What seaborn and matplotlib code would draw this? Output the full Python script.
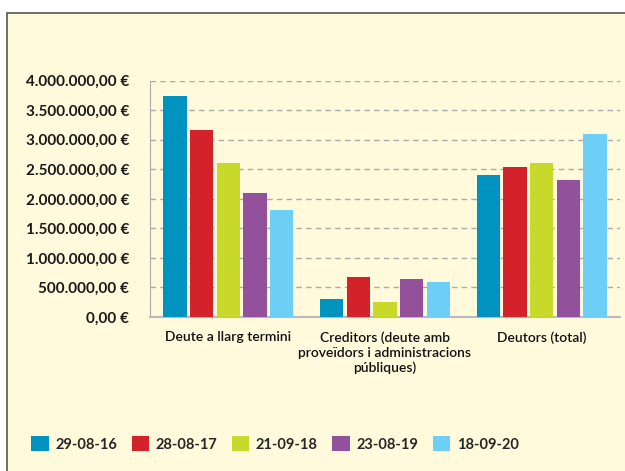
import seaborn as sns
import matplotlib.pyplot as plt
import matplotlib.patches as mpatches
import pandas as pd
from matplotlib.ticker import FuncFormatter, MultipleLocator

categories = [
    "Deute a llarg termini",
    "Creditors (deute amb\nproveïdors i administracions\npúbliques)",
    "Deutors (total)",
]
dates = ["29-08-16", "28-08-17", "21-09-18", "23-08-19", "18-09-20"]
deute_llarg = [3740000, 3170000, 2610000, 2100000, 1810000]
creditors = [310000, 680000, 260000, 650000, 600000]
deutors = [2410000, 2540000, 2610000, 2320000, 3100000]
colors = ["#0093c0", "#d3222a", "#c9d92b", "#93519c", "#6ecff6"]

rows = []
for cat, vals in zip(categories, [deute_llarg, creditors, deutors]):
    for d, v in zip(dates, vals):
        rows.append({"categoria": cat, "data": d, "valor": v})
df = pd.DataFrame(rows)

sns.set_style("white")
plt.rcParams["font.family"] = ["Lato", "DejaVu Sans"]

fig = plt.figure(figsize=(6.25, 4.71), dpi=100, facecolor="white")
bg = "#fffadc"
# framed cream panel behind everything
fig.patches.append(mpatches.Rectangle((7 / 625, -0.05), 1.1, 1 - 13 / 471 + 0.05,
                                      transform=fig.transFigure, facecolor=bg,
                                      edgecolor="#555555", linewidth=1.2, zorder=-10))

ax = fig.add_axes([150 / 625, 1 - 317 / 471, 470 / 625, (317 - 80.7) / 471])
ax.patch.set_alpha(0)

sns.barplot(data=df, x="categoria", y="valor", hue="data", palette=colors,
            width=0.85, gap=0.12, saturation=1, linewidth=0, ax=ax, zorder=3, legend=False)

ax.set_ylim(0, 4000000)
ax.set_xlim(-0.5, 2.5)
ax.yaxis.set_major_locator(MultipleLocator(500000))

def euro(v, pos):
    s = f"{v:,.2f}".replace(",", "X").replace(".", ",").replace("X", ".")
    return s + " €"

ax.yaxis.set_major_formatter(FuncFormatter(euro))
ax.grid(axis="y", linestyle=(0, (4, 3)), color="#aaaaaa", linewidth=1, zorder=0)
ax.grid(axis="x", visible=False)
for side in ["top", "right"]:
    ax.spines[side].set_visible(False)
ax.spines["left"].set_color("#aaaaaa")
ax.spines["bottom"].set_color("#bbbbbb")
ax.spines["bottom"].set_linewidth(1.5)
ax.tick_params(axis="y", length=7, color="#aaaaaa", width=1, pad=8)
ax.tick_params(axis="x", length=0, pad=10)
for t in ax.get_yticklabels():
    t.set_fontsize(11)
    t.set_fontweight("bold")
    t.set_color("#1a1a1a")
ax.set_xticks(range(len(categories)))
ax.set_xticklabels(categories, fontsize=10, fontweight="semibold", color="#111111",
                   linespacing=1.3, va="top")
ax.set_xlabel("")
ax.set_ylabel("")

handles = [mpatches.Patch(facecolor=c, edgecolor="none", label=d) for c, d in zip(colors, dates)]
fig.legend(handles=handles, loc="center left", bbox_to_anchor=(31 / 625, 1 - 444 / 471), ncol=5,
           frameon=False, handlelength=1.2, handleheight=1.2, handletextpad=0.45,
           borderpad=0, borderaxespad=0, columnspacing=1.0,
           prop={"weight": "bold", "size": 10.5})

fig.savefig("out.png", dpi=100, facecolor=fig.get_facecolor())
